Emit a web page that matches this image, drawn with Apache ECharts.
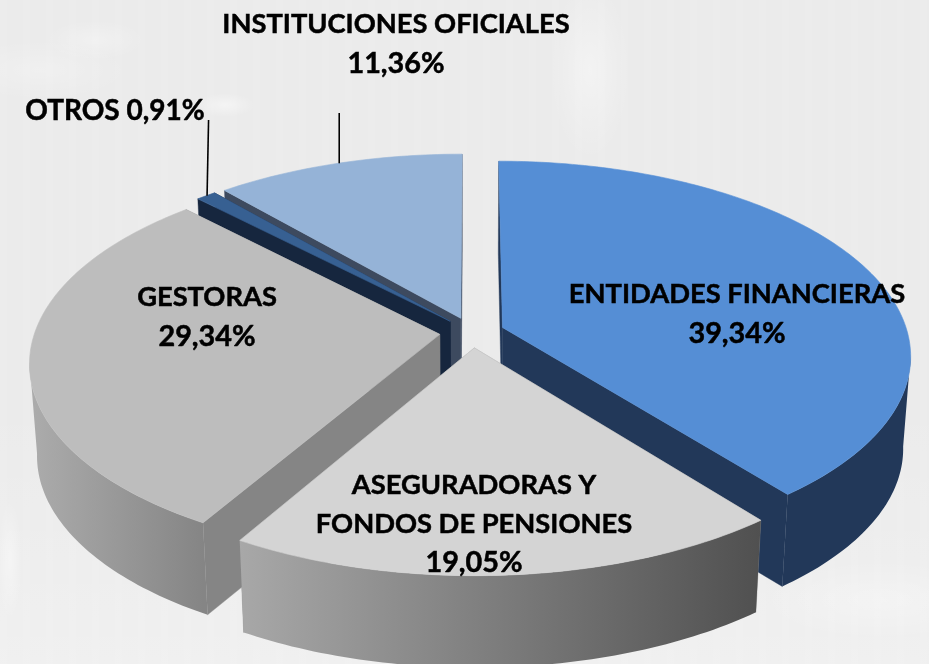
<!DOCTYPE html>
<html><head><meta charset="utf-8">
<style>
html,body{margin:0;padding:0;background:#ebebeb;overflow:hidden}
#c{width:929px;height:664px;background:
 radial-gradient(ellipse 40px 90px at 590px 70px,rgba(255,255,255,.4),transparent),
 radial-gradient(ellipse 50px 20px at 95px 40px,rgba(255,255,255,.3),transparent),
 radial-gradient(ellipse 30px 12px at 225px 105px,rgba(255,255,255,.45),transparent),
 radial-gradient(ellipse 90px 30px at 40px 70px,rgba(255,255,255,.25),transparent),
 radial-gradient(ellipse 12px 60px at 10px 560px,rgba(255,255,255,.4),transparent),
 radial-gradient(ellipse 120px 40px at 880px 600px,rgba(255,255,255,.3),transparent),
 linear-gradient(180deg,transparent 60%,rgba(255,255,255,.25) 100%),
 repeating-linear-gradient(90deg,rgba(255,255,255,.05) 0 7px,transparent 7px 23px),
 #ebebeb}
</style>
<script src="https://cdn.jsdelivr.net/npm/echarts@6/dist/echarts.min.js"></script>
</head><body><div id="c"></div>
<script>
const categories = ['ENTIDADES FINANCIERAS','ASEGURADORAS Y\nFONDOS DE PENSIONES','GESTORAS','OTROS','INSTITUCIONES OFICIALES'];
const values = [39.34, 19.05, 29.34, 0.91, 11.36];

// Styling and layout only
const topColors = ['#558ed5','#d4d4d4','#bdbdbd','#376092','#95b3d7'];
const wallGrad = [['#223859','#223859'],['#a8a8a8','#505050'],['#acacac','#858585'],['#17263d','#17263d'],['#3d4a5f','#3d4a5f']];
const cutColors = ['#223859','#8a8a8a','#858585','#16263e','#3d4a5f'];
const paintOrder = [4,3,0,2,1];
const labelPos = [[737,314],[474,524],[207,317],[115,111],[396,44]];
const labelSep = ['\n','\n','\n',' ','\n'];
const leaderTop = [null,null,null,120,113];
const view = {cx:472, cy:332.5, A:405, B:191, k:0.1406, e:0.08, depth:92, shrink:0.983, frontFrom:98, frontTo:262};

const total = values.reduce((a,b)=>a+b,0);
const starts = []; { let s=0; values.forEach(v=>{starts.push(s); s+=v/total*360;}); }
const rad = d=>d*Math.PI/180;

function proj(u,v,low){
  const w = 1+view.k*v;
  let x = view.cx+view.A*u/w, y = view.cy-view.B*v/w;
  if(low){ x = view.cx+(x-view.cx)*view.shrink; y += view.depth; }
  return [x,y];
}
function geom(i){
  const a0 = starts[i], a1 = a0+values[i]/total*360, m=(a0+a1)/2;
  const ex = view.e*Math.sin(rad(m)), ey = view.e*Math.cos(rad(m));
  const pt = (deg,low)=>proj(ex+Math.sin(rad(deg)), ey+Math.cos(rad(deg)), low);
  const apex = low=>proj(ex,ey,low);
  const arcBetween = (from,to,low)=>{ const n=Math.max(4,Math.ceil(to-from)), r=[];
    for(let j=0;j<=n;j++) r.push(pt(from+(to-from)*j/n,low)); return r; };
  return {a0,a1,m,pt,apex,arcBetween};
}
function sliceItem(params,api){
  const i = api.value(1), g = geom(i);
  const topArc=g.arcBetween(g.a0,g.a1,false);
  const poly=(pts,f,lw)=>({type:'polygon',shape:{points:pts},style:{fill:f,stroke:f,lineWidth:lw===undefined?0.4:lw}});
  const cut=a=>[g.apex(false),g.pt(a,false),g.pt(a,true),g.apex(true)];
  const kids=[poly(cut(g.a1),cutColors[i]),poly(cut(g.a0),cutColors[i])];
  const from=Math.max(g.a0,view.frontFrom), to=Math.min(g.a1,view.frontTo);
  if(to>from){
    const upper=g.arcBetween(from,to,false), lower=g.arcBetween(from,to,true);
    const xs=upper.map(p=>p[0]), xMin=Math.min(...xs), xMax=Math.max(...xs);
    const wallFill=new echarts.graphic.LinearGradient(xMin,0,xMax,0,[{offset:0,color:wallGrad[i][0]},{offset:1,color:wallGrad[i][1]}],true);
    kids.push({type:'polygon',shape:{points:upper.concat(lower.reverse())},style:{fill:wallFill}});
  }
  kids.push(poly([g.apex(false)].concat(topArc),topColors[i],0.6));
  return {type:'group',children:kids};
}
function labelItem(params,api){
  const i = api.value(1), g=geom(i);
  const pct = api.value(0).toFixed(2).replace('.',',')+'%';
  const kids=[];
  const line=(text,y,size)=>kids.push({type:'text',style:{text:text,x:labelPos[i][0],y:y,align:'center',verticalAlign:'middle',
    font:'bold '+size+'px Lato',fill:'#000',stroke:'#000',lineWidth:0.5}});
  if(labelSep[i]===' '){
    line(categories[i]+' '+pct,labelPos[i][1],28);
  } else {
    const names=categories[i].split('\n'), n=names.length+1;
    names.forEach((t,k)=>line(t,labelPos[i][1]+(k-(n-1)/2)*39,27.3));
    line(pct,labelPos[i][1]+((n-1)/2)*39,28.8);
  }
  if(leaderTop[i]!==null){
    const p=g.pt(g.m,false);
    kids.push({type:'line',shape:{x1:p[0]+1,y1:p[1],x2:p[0]+(i===3?2.5:1),y2:leaderTop[i]},style:{stroke:'#000',lineWidth:1.6}});
  }
  return {type:'group',children:kids};
}
const rows = paintOrder.map(i=>({name:categories[i],value:[values[i],i]}));
const chart = echarts.init(document.getElementById('c'));
chart.setOption({
  animation:false,
  backgroundColor:'transparent',
  series:[
    {type:'custom',coordinateSystem:'none',renderItem:sliceItem,data:rows,silent:true,z:2},
    {type:'custom',coordinateSystem:'none',renderItem:labelItem,data:rows,silent:true,z:3}
  ]
});
</script></body></html>
